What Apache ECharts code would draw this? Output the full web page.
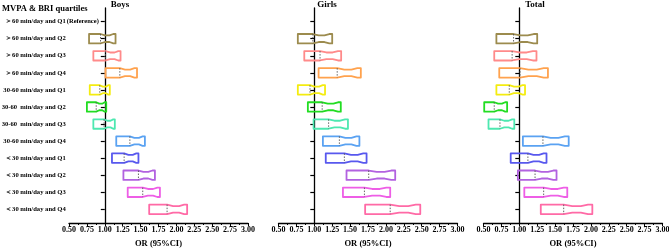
<!DOCTYPE html>
<html><head><meta charset="utf-8">
<script src="https://cdn.jsdelivr.net/npm/echarts@6/dist/echarts.min.js"></script>
<style>html,body{margin:0;padding:0;background:#fff}#c{width:669px;height:248px}</style>
</head><body><div id="c"></div><script>
const categories = [
  '＞60 min/day and Q1', '＞60 min/day and Q2', '＞60 min/day and Q3', '＞60 min/day and Q4',
  '30-60 min/day and Q1', '30-60  min/day and Q2', '30-60  min/day and Q3', '30-60 min/day and Q4',
  '＜30 min/day and Q1', '＜30 min/day and Q2', '＜30 min/day and Q3', '＜30 min/day and Q4'
];
const referenceNote = '(Reference)';
const legendTitle = 'MVPA & BRI quartiles';
const panelNames = ['Boys', 'Girls', 'Total'];
const xName = 'OR (95%CI)';
const xMin = 0.5, xMax = 3.0, xStep = 0.25;

const boysLow  = [null, 0.78, 0.84, 1.01, 0.79, 0.75, 0.84, 1.16, 1.10, 1.26, 1.32, 1.62];
const boysOR   = [1.00, 0.94, 1.01, 1.21, 0.93, 0.88, 0.99, 1.35, 1.27, 1.47, 1.53, 1.87];
const boysHigh = [null, 1.15, 1.22, 1.45, 1.07, 1.02, 1.14, 1.56, 1.47, 1.70, 1.77, 2.15];

const girlsLow  = [null, 0.77, 0.86, 1.06, 0.77, 0.91, 0.99, 1.12, 1.16, 1.45, 1.40, 1.71];
const girlsOR   = [1.00, 0.98, 1.08, 1.32, 0.94, 1.11, 1.20, 1.35, 1.42, 1.76, 1.70, 2.06];
const girlsHigh = [null, 1.25, 1.375, 1.65, 1.15, 1.37, 1.47, 1.63, 1.73, 2.13, 2.06, 2.48];

const totalLow  = [null, 0.68, 0.65, 0.72, 0.68, 0.51, 0.57, 1.05, 0.88, 0.98, 1.07, 1.30];
const totalOR   = [1.00, 0.92, 0.90, 1.01, 0.86, 0.65, 0.73, 1.33, 1.12, 1.22, 1.34, 1.62];
const totalHigh = [null, 1.25, 1.24, 1.40, 1.08, 0.83, 0.93, 1.69, 1.38, 1.52, 1.67, 2.02];

const rowColors = ['#000000', '#9c8b4e', '#ff8a8a', '#ffa24e', '#f4ec10', '#22dd22', '#4de8b0',
                   '#5aa2f2', '#5858ee', '#b262e0', '#ee5ee6', '#ff6aa6'];

const FONT = "'Liberation Serif', 'Times New Roman', serif";
const panelData = [[boysLow, boysOR, boysHigh], [girlsLow, girlsOR, girlsHigh], [totalLow, totalOR, totalHigh]];
const gridLefts = [69, 278.5, 483.5];
const gridW = 179, gridTop = 8, gridH = 215;
const titleCenters = [120, 327, 535];

const chart = echarts.init(document.getElementById('c'), null, {renderer: 'canvas'});
const rowIdx = categories.map((_, i) => i + 1);

function renderItem(params, api) {
  const lo = api.value(0), est = api.value(1), hi = api.value(2), row = api.value(3);
  const color = rowColors[row - 1];
  const pLo = api.coord([lo, row]), pEst = api.coord([est, row]), pHi = api.coord([hi, row]);
  const y = pLo[1], H = 4.7, h = 3.3;
  const d = pHi[0] - pEst[0];
  const xs = [pLo[0], pEst[0], pEst[0] + 0.3 * d, pEst[0] + 0.6 * d, pEst[0] + 0.85 * d, pHi[0]];
  const hs = [H, H, h, h, H, H];
  const pts = [];
  for (let i = 0; i < xs.length; i++) pts.push([xs[i], y - hs[i]]);
  for (let i = xs.length - 1; i >= 0; i--) pts.push([xs[i], y + hs[i]]);
  return {
    type: 'group',
    children: [
      {type: 'polygon', shape: {points: pts}, style: {fill: 'rgba(255,255,255,0)', stroke: color, lineWidth: 1.8, lineJoin: 'round'}},
      {type: 'line', shape: {x1: pEst[0], y1: y - H, x2: pEst[0], y2: y + H}, style: {stroke: '#555', lineWidth: 0.9, lineDash: [1.5, 1.5]}}
    ]
  };
}

const grids = [], xAxes = [], yAxes = [], series = [], titles = [];
titles.push({text: legendTitle, left: 2, top: 4, padding: 0, textStyle: {fontFamily: FONT, fontSize: 8.5, fontWeight: 'bold', color: '#000'}});
panelData.forEach((pd, k) => {
  grids.push({left: gridLefts[k], top: gridTop, width: gridW, height: gridH, containLabel: false, outerBoundsMode: 'none'});
  const axisOffset = -(1 - xMin) / (xMax - xMin) * gridW;
  xAxes.push({
    type: 'value', gridIndex: k, min: xMin, max: xMax, interval: xStep,
    name: xName, nameLocation: 'middle', nameGap: 9,
    nameTextStyle: {fontFamily: FONT, fontSize: 8.5, fontWeight: 'bold', color: '#000'},
    axisLine: {show: true, lineStyle: {color: '#000', width: 1.3}},
    axisTick: {show: true, length: 3, lineStyle: {color: '#000', width: 1}},
    minorTick: {show: true, splitNumber: 2, length: 2, lineStyle: {color: '#000', width: 1}},
    axisLabel: {fontFamily: FONT, fontSize: 8, fontWeight: 'bold', color: '#000', margin: 3,
      formatter: v => v.toFixed(2)},
    splitLine: {show: false}
  });
  yAxes.push({
    type: 'value', gridIndex: k, min: 0.2, max: 12.8, inverse: true, position: 'left',
    offset: axisOffset,
    axisLine: {show: true, lineStyle: {color: '#000', width: 1.3}},
    axisTick: {show: true, length: 4, customValues: rowIdx, lineStyle: {color: '#000', width: 1.2}},
    axisLabel: {show: k === 0, customValues: rowIdx, margin: 39, fontFamily: FONT, fontSize: 6.6,
      fontWeight: 'bold', color: '#000', align: 'right',
      formatter: v => categories[Math.round(v) - 1] || ''},
    splitLine: {show: false}
  });
  const data = [];
  pd[0].forEach((lo, i) => {
    if (lo !== null) data.push([lo, pd[1][i], pd[2][i], i + 1]);
  });
  series.push({
    type: 'custom', xAxisIndex: k, yAxisIndex: k, renderItem, data,
    encode: {x: [0, 1, 2], y: 3}, clip: false, silent: true
  });
  titles.push({text: panelNames[k], left: titleCenters[k], textAlign: 'center', top: 0, padding: 0,
    textStyle: {fontFamily: FONT, fontSize: 9, fontWeight: 'bold', color: '#000'}});
});

chart.setOption({animation: false, backgroundColor: '#fff', title: titles, grid: grids,
  xAxis: xAxes, yAxis: yAxes, series});

const p = chart.convertToPixel({xAxisIndex: 0, yAxisIndex: 0}, [1, 1]);
chart.setOption({graphic: [{type: 'text', left: p[0] - 38, top: p[1] - 4,
  style: {text: referenceNote, font: "bold 6.5px " + FONT, fill: '#000'}}]});
</script></body></html>
